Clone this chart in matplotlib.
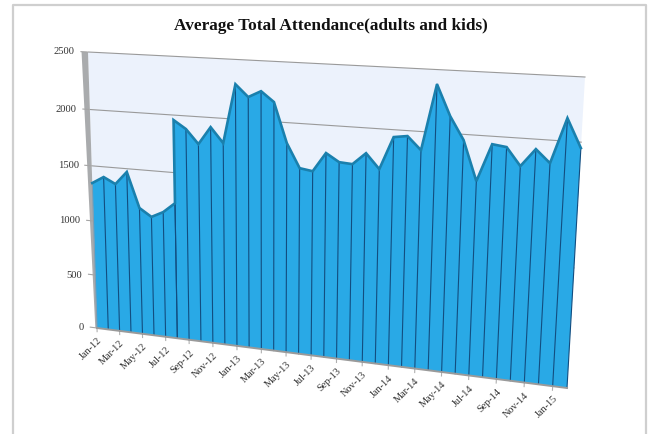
import matplotlib
matplotlib.use('Agg')
import matplotlib.pyplot as plt
import numpy as np
from matplotlib.transforms import Transform

plt.rcParams['font.family'] = ['Liberation Serif', 'DejaVu Serif']

# month number of each point, Aug-12 comes twice (the jump is a vertical edge)
month_pos = [0, 1, 2, 3, 4, 5, 6, 7, 7, 8, 9, 10, 11, 12, 13, 14, 15, 16, 17, 18,
             19, 20, 21, 22, 23, 24, 25, 26, 27, 28, 29, 30, 31, 32, 33, 34, 35, 36, 37]
attendance = [1345, 1408, 1354, 1471, 1158, 1088, 1141, 1230, 1957, 1887, 1765, 1918, 1789,
              2294, 2193, 2248, 2164, 1828, 1625, 1608, 1769, 1701, 1693, 1792, 1669, 1940,
              1956, 1849, 2385, 2138, 1954, 1632, 1937, 1922, 1779, 1922, 1819, 2179, 1954]
tick_pos = [0, 2, 4, 6, 8, 10, 12, 14, 16, 18, 20, 22, 24, 26, 28, 30, 32, 34, 36]
tick_labels = ['Jan-12', 'Mar-12', 'May-12', 'Jul-12', 'Sep-12', 'Nov-12', 'Jan-13', 'Mar-13',
               'May-13', 'Jul-13', 'Sep-13', 'Nov-13', 'Jan-14', 'Mar-14', 'May-14', 'Jul-14',
               'Sep-14', 'Nov-14', 'Jan-15']
y_ticks = [0, 500, 1000, 1500, 2000, 2500]
x_max = 37
y_max = 2500


# plane tilted in perspective: chart values -> figure pixels
class Tilted(Transform):
    input_dims = 2
    output_dims = 2
    is_separable = False
    has_inverse = False

    def __init__(self, src, dst):
        super().__init__()
        A = []
        b = []
        for (x, y), (u, v) in zip(src, dst):
            A.append([x, y, 1, 0, 0, 0, -u * x, -u * y])
            A.append([0, 0, 0, x, y, 1, -v * x, -v * y])
            b += [u, v]
        self.H = np.append(np.linalg.solve(np.array(A, float), np.array(b, float)), 1).reshape(3, 3)

    def transform_non_affine(self, values):
        pts = np.column_stack([values, np.ones(len(values))]) @ self.H.T
        return pts[:, :2] / pts[:, 2:]


fig = plt.figure(figsize=(6.52, 4.34), dpi=100)
ax = fig.add_axes([0, 0, 1, 1])
ax.set_xlim(0, 652)
ax.set_ylim(434, 0)
ax.set_axis_off()
ax.autoscale(False)

corners_data = [(0, 0), (x_max, 0), (x_max, y_max), (0, y_max)]
corners_px = [(97, 328), (567, 388), (585, 77), (88, 52)]
proj = Tilted(corners_data, corners_px) + ax.transData

# outer frame, runs off the bottom of the image
ax.plot([12.5, 12.5, 646, 646], [434, 5, 5, 434], color='#cfcfcf', lw=1.6, zorder=1)

# back wall and gridlines
ax.fill([0, x_max, x_max, 0], [0, 0, y_max, y_max], color='#ecf2fc', lw=0, transform=proj, zorder=1)
for v in y_ticks[1:]:
    ax.plot([0, x_max], [v, v], color='#9a9a9a', lw=0.8, transform=proj, zorder=2)

# grey side wall on the left
ax.fill([-0.15, 0, 0, -0.55], [0, 0, y_max, y_max], color='#a9abad', lw=0, transform=proj, zorder=2)

# area, top edge and month lines
xs = np.array(month_pos)
ys = np.array(attendance)
ax.fill(np.r_[xs, x_max, 0], np.r_[ys, 0, 0], color='#29a9e6', lw=0, transform=proj, zorder=3)
ax.plot([0, 0], [0, ys[0]], color='#7f9cb0', lw=0.8, transform=proj, zorder=4)
for x, y in zip(xs[1:], ys[1:]):
    ax.plot([x, x], [0, y], color='#124d80', lw=0.8, transform=proj, zorder=4)
ax.plot(xs, ys, color='#1a80ad', lw=1.9, solid_joinstyle='miter', transform=proj, zorder=5)

# axis line and ticks
ax.plot([0, x_max], [0, 0], color='#9a9a9a', lw=1.4, transform=proj, zorder=6)
for v in y_ticks:
    ax.plot([-0.6, -0.1], [v, v], color='#a5a5a5', lw=0.8, transform=proj, zorder=2)
    ax.annotate(str(v), (0, v), xycoords=proj, xytext=(-13, 0), textcoords='offset pixels',
                ha='right', va='center', fontsize=7.6, color='#333333')
for x, lab in zip(tick_pos, tick_labels):
    ax.plot([x, x], [0, -35], color='#b0b0b0', lw=0.8, transform=proj, zorder=2)
    ax.annotate(lab, (x, 0), xycoords=proj, xytext=(0, -8), textcoords='offset pixels',
                ha='right', va='top', rotation=45, rotation_mode='anchor',
                fontsize=7.4, color='#333333')

ax.text(331, 26, 'Average Total Attendance(adults and kids)', ha='center', va='center',
        fontsize=12.4, fontweight='bold', color='#111111')

fig.savefig('out.png', dpi=100)
